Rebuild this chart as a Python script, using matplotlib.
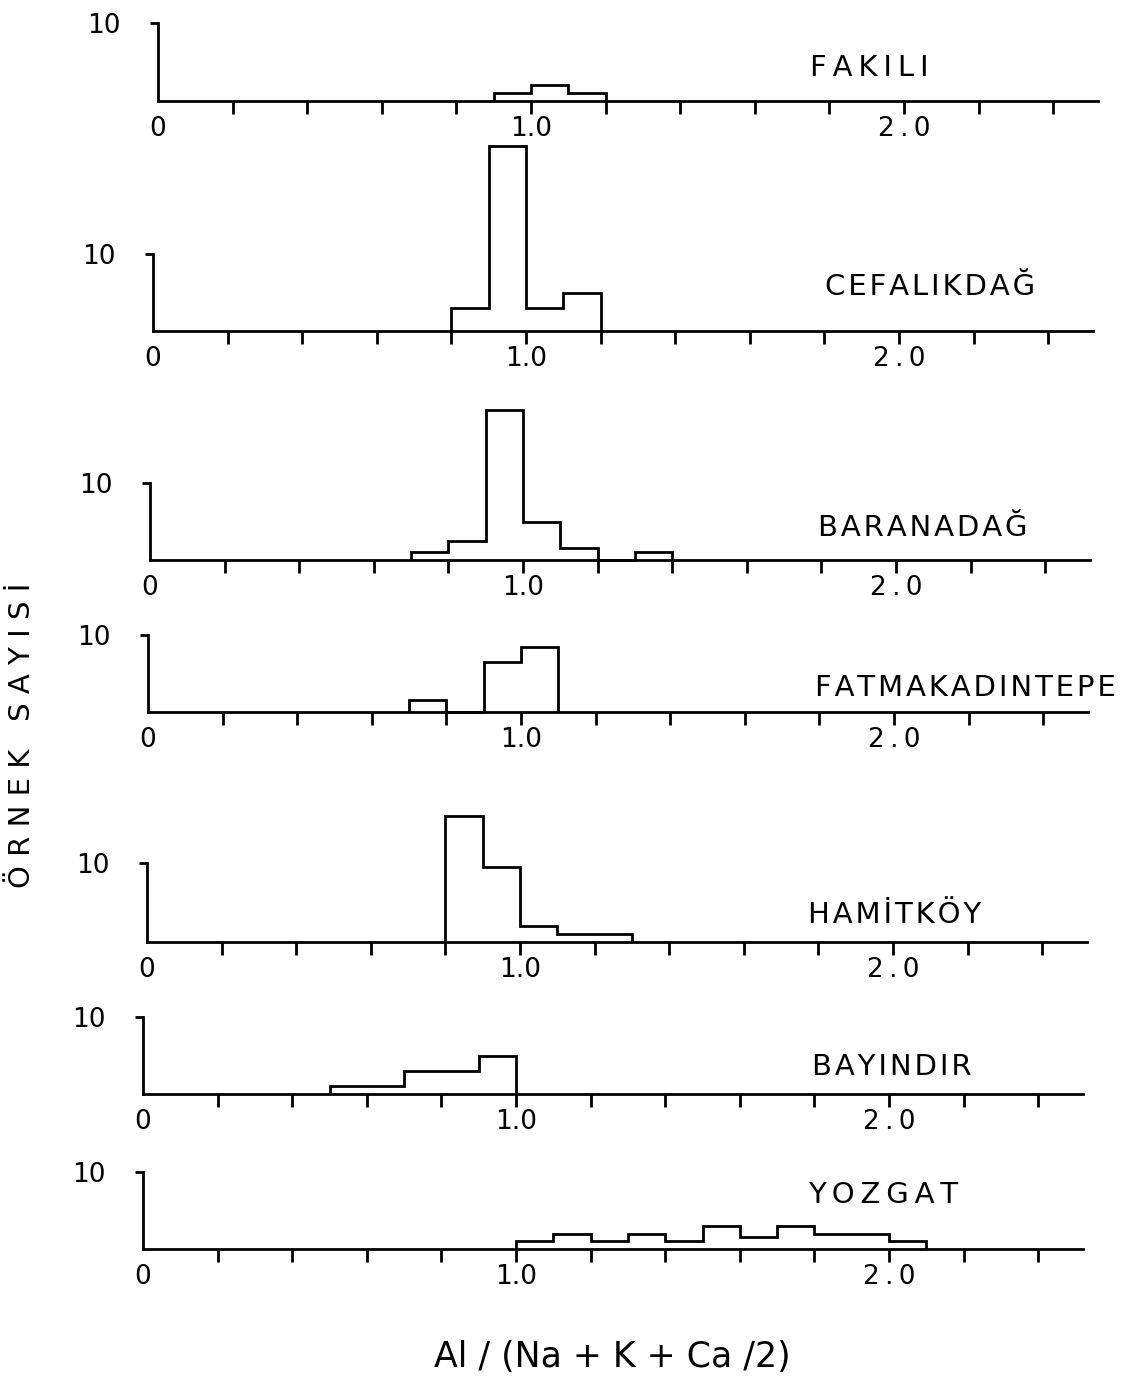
import numpy as np
import matplotlib
matplotlib.use('Agg')
import matplotlib.pyplot as plt

# ---------------- data ----------------
sites = ['FAKILI', 'CEFALIKDAĞ', 'BARANADAĞ', 'FATMAKADINTEPE', 'HAMİTKÖY', 'BAYINDIR', 'YOZGAT']
bin_width = 0.1
first_bin = [0.9, 0.8, 0.7, 0.7, 0.8, 0.5, 1.0]
fakili_counts = [1, 2, 1]
cefalikdag_counts = [3, 24, 3, 5]
baranadag_counts = [1, 2.5, 19.5, 5, 1.5, 0, 1]
fatmakadintepe_counts = [1.5, 0, 6.5, 8.5]
hamitkoy_counts = [16, 9.5, 2, 1, 1]
bayindir_counts = [1, 1, 3, 3, 5]
yozgat_counts = [1, 2, 1, 2, 1, 3, 1.5, 3, 2, 2, 1]
all_counts = [fakili_counts, cefalikdag_counts, baranadag_counts, fatmakadintepe_counts,
              hamitkoy_counts, bayindir_counts, yozgat_counts]
x_ticks = [0.0, 0.2, 0.4, 0.6, 0.8, 1.0, 1.2, 1.4, 1.6, 1.8, 2.0, 2.2, 2.4]
x_tick_labels = ['0', '', '', '', '', '1.0', '', '', '', '', '2\u2009.\u20090', '', '']
y_ticks = [10]
y_tick_labels = ['10']
x_label = 'Al / (Na + K + Ca /2)'
y_label = 'ÖRNEK SAYISİ'

# ---------------- layout (pixels) ----------------
W, H = 1128, 1384
x0_px = [158, 153, 150, 148, 147, 143, 143]
base_px = [101, 331, 560, 712, 942, 1094, 1249]
ten_px = [78, 77, 77, 77, 79, 77, 77]
unit_x_px = 373.0
xmax = 2.52
title_pos = [(810, 68), (825, 287), (818, 528), (815, 688), (808, 915), (812, 1067), (808, 1195)]
title_sep = ['\u2009', '\u200a', '\u200a', '\u200a', '\u200a', '\u200a', '\u2009']

plt.rcParams['font.family'] = ['DejaVu Sans']
fig = plt.figure(figsize=(W / 100, H / 100), dpi=100)
fig.patch.set_facecolor('white')

def spaced(s, sep='\u200a'):
    return sep.join(s)

lw = 2.0
for i, name in enumerate(sites):
    left = x0_px[i] / W
    bottom = 1 - base_px[i] / H
    ax = fig.add_axes([left, bottom, unit_x_px * xmax / W, ten_px[i] / H])
    ax.set_xlim(0, xmax)
    ax.set_ylim(0, 10)
    ax.patch.set_alpha(0)
    for sp in ['top', 'right']:
        ax.spines[sp].set_visible(False)
    ax.spines['left'].set_bounds(0, 10)
    for sp in ['left', 'bottom']:
        ax.spines[sp].set_linewidth(lw)
    counts = all_counts[i]
    edges = first_bin[i] + bin_width * np.arange(len(counts) + 1)
    ax.stairs(counts, edges, baseline=0, fill=False, color='black', linewidth=lw,
              clip_on=False)
    ax.set_xticks(x_ticks, x_tick_labels, fontsize=19)
    ax.tick_params(axis='x', direction='out', length=9, width=lw, pad=2)
    ax.xaxis.get_major_ticks()[0].tick1line.set_visible(False)
    ax.set_yticks(y_ticks, y_tick_labels, fontsize=19)
    ax.tick_params(axis='y', direction='out', length=6, width=lw, pad=21)
    tx, ty = title_pos[i]
    fig.text(tx / W, 1 - ty / H, spaced(name, title_sep[i]), fontsize=21,
             ha='left', va='center')

fig.text(22 / W, 1 - 735 / H, spaced(y_label, ' '), rotation=90, fontsize=21,
         ha='center', va='center')
fig.text(612 / W, 1 - 1357 / H, x_label, fontsize=25, ha='center', va='center')

fig.savefig('out.png', dpi=100, facecolor='white')
